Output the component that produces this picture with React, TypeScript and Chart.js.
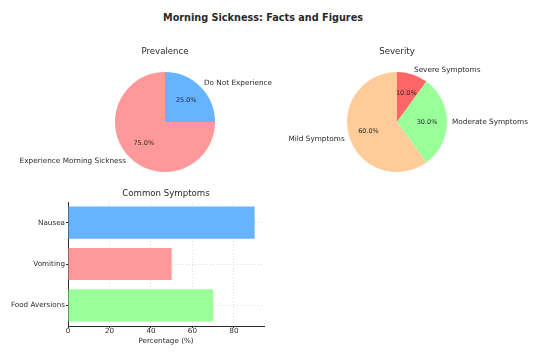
import React, { useEffect, useRef } from "react";
import { Chart, registerables } from "chart.js";

Chart.register(...registerables);

const FONT = "'DejaVu Sans', sans-serif";
const TEXT = "#2a2a2a";

const prevalenceLabels = ["Do Not Experience", "Experience Morning Sickness"];
const prevalenceValues = [25, 75];
const prevalenceColors = ["#66b3ff", "#ff9999"];

const severityLabels = ["Severe Symptoms", "Moderate Symptoms", "Mild Symptoms"];
const severityValues = [10, 30, 60];
const severityColors = ["#ff6666", "#99ff99", "#ffcc99"];

const symptomLabels = ["Nausea", "Vomiting", "Food Aversions"];
const symptomValues = [90, 50, 70];
const symptomColors = ["#66b3ff", "#ff9999", "#99ff99"];
const xTickValues = [0, 20, 40, 60, 80];

const pieLabelPlugin = {
  id: "pieLabels",
  afterDatasetsDraw(chart: any, _args: any, opts: any) {
    const ctx = chart.ctx;
    const meta = chart.getDatasetMeta(0);
    const values = chart.data.datasets[0].data as number[];
    const total = values.reduce((a: number, b: number) => a + b, 0);
    const labels = chart.data.labels as string[];
    ctx.save();
    ctx.fillStyle = TEXT;
    ctx.textBaseline = "middle";
    let cx = 0, cy = 0, r = 0;
    meta.data.forEach((arc: any, i: number) => {
      const p = arc.getProps(["x", "y", "startAngle", "endAngle", "outerRadius"], true);
      cx = p.x; cy = p.y; r = p.outerRadius;
      const mid = (p.startAngle + p.endAngle) / 2;
      const c = Math.cos(mid), s = Math.sin(mid);
      ctx.font = `7.3px ${FONT}`;
      ctx.textAlign = c > 0 ? "left" : "right";
      ctx.fillText(labels[i], p.x + c * r * 1.1, p.y + s * r * 1.1);
      ctx.font = `6.5px ${FONT}`;
      ctx.textAlign = "center";
      ctx.fillText(((values[i] / total) * 100).toFixed(1) + "%", p.x + c * r * 0.6, p.y + s * r * 0.6);
    });
    if (opts && opts.title) {
      ctx.font = `8.6px ${FONT}`;
      ctx.textAlign = "center";
      ctx.fillText(opts.title, cx, cy - r - 20);
    }
    ctx.restore();
  },
};

const barTitlePlugin = {
  id: "barTitle",
  afterDraw(chart: any, _args: any, opts: any) {
    if (!opts || !opts.title) return;
    const ctx = chart.ctx;
    const a = chart.chartArea;
    ctx.save();
    ctx.fillStyle = TEXT;
    ctx.font = `8.6px ${FONT}`;
    ctx.textAlign = "center";
    ctx.textBaseline = "middle";
    ctx.fillText(opts.title, (a.left + a.right) / 2, a.top - 8);
    ctx.restore();
  },
};

function PieChart(props: {
  labels: string[];
  values: number[];
  colors: string[];
  title: string;
  left: number;
  width: number;
  padding: { left: number; right: number; top: number; bottom: number };
}) {
  const ref = useRef<HTMLCanvasElement>(null);
  useEffect(() => {
    if (!ref.current) return;
    const chart = new Chart(ref.current, {
      type: "pie",
      data: {
        labels: props.labels,
        datasets: [
          {
            data: props.values,
            backgroundColor: props.colors,
            borderWidth: 0,
          },
        ],
      },
      options: {
        responsive: false,
        animation: false,
        layout: { padding: props.padding },
        plugins: {
          legend: { display: false },
          tooltip: { enabled: false },
          title: { display: false },
          pieLabels: { title: props.title },
        } as any,
      },
      plugins: [pieLabelPlugin],
    });
    return () => chart.destroy();
  }, []);
  return (
    <canvas
      ref={ref}
      width={props.width}
      height={160}
      style={{ position: "absolute", left: props.left, top: 30, width: props.width, height: 160 }}
    />
  );
}

function BarChart() {
  const ref = useRef<HTMLCanvasElement>(null);
  useEffect(() => {
    if (!ref.current) return;
    const gridColor = "#dddddd";
    const chart = new Chart(ref.current, {
      type: "bar",
      data: {
        labels: symptomLabels,
        datasets: [
          {
            data: symptomValues,
            backgroundColor: symptomColors,
            borderWidth: 0,
            categoryPercentage: 1,
            barPercentage: 0.78,
          },
        ],
      },
      options: {
        indexAxis: "y",
        responsive: false,
        animation: false,
        layout: { padding: { left: 0, top: 22, right: 16, bottom: 0 } },
        scales: {
          x: {
            type: "linear",
            min: 0,
            max: 94.5,
            afterFit: (s: any) => {
              s.height = 34;
            },
            afterBuildTicks: (s: any) => {
              s.ticks = xTickValues.map((v) => ({ value: v }));
            },
            ticks: {
              includeBounds: false,
              padding: 0,
              color: TEXT,
              font: { family: FONT, size: 7.2, lineHeight: 1 },
            },
            grid: {
              color: gridColor,
              drawTicks: true,
              tickLength: 2,
              tickColor: TEXT,
            },
            border: { display: true, color: TEXT, width: 1, dash: [1, 2] },
            title: {
              display: true,
              text: "Percentage (%)",
              color: TEXT,
              font: { family: FONT, size: 7.2 },
              padding: { top: 0, bottom: 14.7 },
            },
          },
          y: {
            type: "category",
            offset: true,
            afterFit: (s: any) => {
              s.width = 68;
            },
            ticks: {
              padding: 1,
              color: TEXT,
              font: { family: FONT, size: 7.2 },
            },
            grid: {
              offset: false,
              color: gridColor,
              drawTicks: true,
              tickLength: 2,
              tickColor: TEXT,
            },
            border: { display: true, color: TEXT, width: 1, dash: [1, 2] },
          },
        },
        plugins: {
          legend: { display: false },
          tooltip: { enabled: false },
          title: { display: false },
          barTitle: { title: "Common Symptoms" },
        } as any,
      } as any,
      plugins: [barTitlePlugin],
    });
    return () => chart.destroy();
  }, []);
  return (
    <canvas
      ref={ref}
      width={280}
      height={180}
      style={{ position: "absolute", left: 0, top: 180, width: 280, height: 180 }}
    />
  );
}

export default function App() {
  return (
    <div
      style={{
        position: "absolute",
        left: 0,
        top: 0,
        width: 540,
        height: 360,
        background: "#ffffff",
        overflow: "hidden",
      }}
    >
      <div
        style={{
          position: "absolute",
          left: -7,
          top: 12,
          width: 540,
          height: 12,
          lineHeight: "12px",
          textAlign: "center",
          fontFamily: FONT,
          fontWeight: "bold",
          fontSize: 9.7,
          color: TEXT,
        }}
      >
        Morning Sickness: Facts and Figures
      </div>
      <PieChart
        labels={prevalenceLabels}
        values={prevalenceValues}
        colors={prevalenceColors}
        title="Prevalence"
        left={0}
        width={300}
        padding={{ left: 115, right: 85, top: 42, bottom: 18 }}
      />
      <PieChart
        labels={severityLabels}
        values={severityValues}
        colors={severityColors}
        title="Severity"
        left={270}
        width={270}
        padding={{ left: 77, right: 93, top: 42, bottom: 18 }}
      />
      <BarChart />
    </div>
  );
}
